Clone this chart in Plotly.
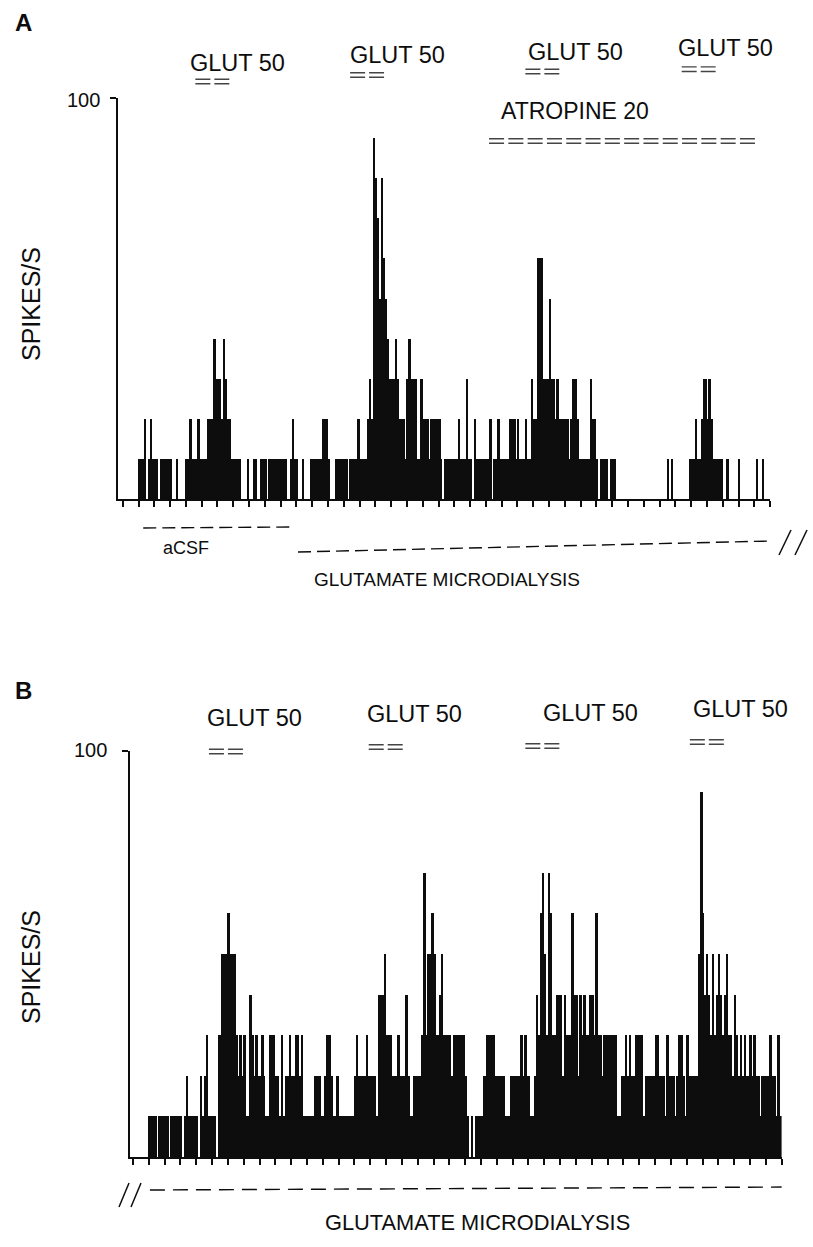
import plotly.graph_objects as go

W, H = 813, 1247

# ---------------- data ----------------
# Firing-rate histograms: each string = one tick interval, 8 bins per interval,
# each digit = bin rate in units of 10 spikes/s
A_bins = [
    "00000000", "11120121", "11011111", "10010000", "11211121",
    "11122243", "33243221", "11110001", "00110011", "10111111",
    "11100121", "10010001", "11111222", "10001111", "11011112",
    "11112329", "87586543", "33432221", "34333113", "22212222",
    "21011111", "11211131", "10211111", "11201121", "11112221",
    "21112113", "22666333", "53323222", "22123321", "11111322",
    "10111101", "11000000", "00000000", "00000000", "00001010",
    "00000001", "11211233", "23211111", "00100000", "10000000",
    "01001000",
]
B_bins = [
    "00000000", "11110111", "11011111", "10121111", "10212311",
    "11033555", "65553232", "31143232", "23211333", "22131223",
    "22332311", "11112221", "12332112", "11111111", "23222232",
    "22214445", "33322232", "22421122", "22373556", "53345333",
    "32333333", "21010111", "12233332", "22221112", "22223232",
    "21124367", "53763344", "42433364", "42434334", "43633233",
    "33333112", "23232233", "33122222", "33222132", "22123321",
    "32222259", "64543534", "54345332", "43232322", "32322122",
    "22322131",
]
BINS_PER_TICK = 8
RATE_UNIT = 10          # spikes/s per digit
N_TICKS = 42            # tick marks 0..41 on the time axis
Y_TICKS = [100]
Y_TICK_TEXT = ["100"]

# drug application periods (in tick units)
A_glut = [(4.6, 6.75), (14.4, 16.55), (25.5, 27.65), (35.4, 37.55)]
A_atropine = [(23.2, 40.2)]
A_acsf = [(1.3, 10.8)]
A_glutamate_md = [(11.1, 41.1)]
B_glut = [(4.8, 6.95), (14.9, 17.05), (24.8, 26.95), (35.2, 37.35)]
B_glutamate_md = [(1.07, 41.8)]

FONT = "Liberation Sans, Arial, sans-serif"
INK = "#0d0d0d"


def expand(bins):
    xs, ys = [], []
    for k, s in enumerate(bins):
        for j, ch in enumerate(s):
            xs.append(k + (j + 0.5) / BINS_PER_TICK)
            ys.append(int(ch) * RATE_UNIT)
    return xs, ys


def px(x):
    return x / W


def py(y):
    return 1 - y / H


fig = go.Figure()
for bins, xa, ya in [(A_bins, "x", "y"), (B_bins, "x2", "y2")]:
    xs, ys = expand(bins)
    fig.add_trace(go.Bar(x=xs, y=ys, width=1 / BINS_PER_TICK, xaxis=xa, yaxis=ya,
                         marker=dict(color=INK, line=dict(width=0)),
                         hoverinfo="skip"))

axis_common = dict(showgrid=False, zeroline=False, showline=True, linecolor=INK,
                   linewidth=1.6, ticks="outside", tickcolor=INK, tickwidth=1.6,
                   showticklabels=False, fixedrange=True)

fig.update_layout(
    width=W, height=H, margin=dict(l=0, r=0, t=0, b=0),
    paper_bgcolor="white", plot_bgcolor="rgba(0,0,0,0)", showlegend=False,
    bargap=0,
    xaxis=dict(domain=[px(118), px(770.1)], range=[-0.3, 41.0],
               tickvals=list(range(N_TICKS)), ticklen=6, anchor="y", **axis_common),
    yaxis=dict(domain=[py(499), py(98)], range=[0, 100], tickvals=Y_TICKS,
               ticklen=6, anchor="x", **axis_common),
    xaxis2=dict(domain=[px(130), px(781.6)], range=[-0.19, 41.0],
                tickvals=list(range(N_TICKS)), ticklen=6, anchor="y2", **axis_common),
    yaxis2=dict(domain=[py(1157), py(751)], range=[0, 100], tickvals=Y_TICKS,
                ticklen=6, anchor="x2", **axis_common),
)

shapes = []


def double_dash(xref, x0, x1, ycen, dash):
    for dy in (-2.3, 2.3):
        shapes.append(dict(type="line", xref=xref, yref="paper", x0=x0, x1=x1,
                           y0=py(ycen + dy), y1=py(ycen + dy),
                           line=dict(color="#444444", width=1.4, dash=dash)))


A_glut_y = [81.5, 75, 71.5, 69.2]
for (a, b), yc in zip(A_glut, A_glut_y):
    double_dash("x", a, b, yc, "15px,4px")
for a, b in A_atropine:
    double_dash("x", a, b, 141, "15px,4.3px")
B_glut_y = [751.5, 747, 746, 742]
for (a, b), yc in zip(B_glut, B_glut_y):
    double_dash("x2", a, b, yc, "15px,4px")

for a, b in A_acsf:
    shapes.append(dict(type="line", xref="x", yref="paper", x0=a, x1=b,
                       y0=py(528), y1=py(527),
                       line=dict(color=INK, width=1.4, dash="13px,6px")))
for a, b in A_glutamate_md:
    shapes.append(dict(type="line", xref="x", yref="paper", x0=a, x1=b,
                       y0=py(552), y1=py(541),
                       line=dict(color=INK, width=1.4, dash="13px,6px")))
for a, b in B_glutamate_md:
    shapes.append(dict(type="line", xref="x2", yref="paper", x0=a, x1=b,
                       y0=py(1190), y1=py(1187),
                       line=dict(color=INK, width=1.4, dash="15px,8px")))

# break marks "//"
for (x0, y0, x1, y1) in [(779, 555, 791, 530), (795, 555, 807, 530),
                         (119, 1207, 129, 1183), (131, 1207, 141, 1183)]:
    shapes.append(dict(type="line", xref="paper", yref="paper",
                       x0=px(x0), y0=py(y0), x1=px(x1), y1=py(y1),
                       line=dict(color=INK, width=1.5)))

fig.update_layout(shapes=shapes)

ann = []


def text(t, x, y, size, bold=False, angle=0, color=INK):
    ann.append(dict(text=("<b>%s</b>" % t) if bold else t, x=px(x), y=py(y),
                    xref="paper", yref="paper", showarrow=False,
                    xanchor="center", yanchor="middle", textangle=angle,
                    font=dict(family=FONT, size=size, color=color)))


text("A", 23, 22, 24, bold=True)
text("B", 23, 691, 24, bold=True)
for (xc, yc) in [(237.5, 63), (397, 55), (575, 51.7), (725, 48)]:
    text("GLUT 50", xc, yc, 23.5)
text("ATROPINE 20", 575, 110.5, 23)
for (xc, yc) in [(254, 718), (414, 714), (590.5, 713), (740, 709)]:
    text("GLUT 50", xc, yc, 23.5)
text(Y_TICK_TEXT[0], 83, 100, 20)
text(Y_TICK_TEXT[0], 90, 750, 20)
text("SPIKES/S", 31, 304, 25, angle=-90)
text("SPIKES/S", 31, 967, 25, angle=-90)
text("aCSF", 186, 548, 18)
text("GLUTAMATE MICRODIALYSIS", 447, 580, 19)
text("GLUTAMATE MICRODIALYSIS", 477, 1222, 21.8)

fig.update_layout(annotations=ann)
fig.write_html("out.html", config={"displayModeBar": False},
               post_script="document.body.style.margin='0px';")
